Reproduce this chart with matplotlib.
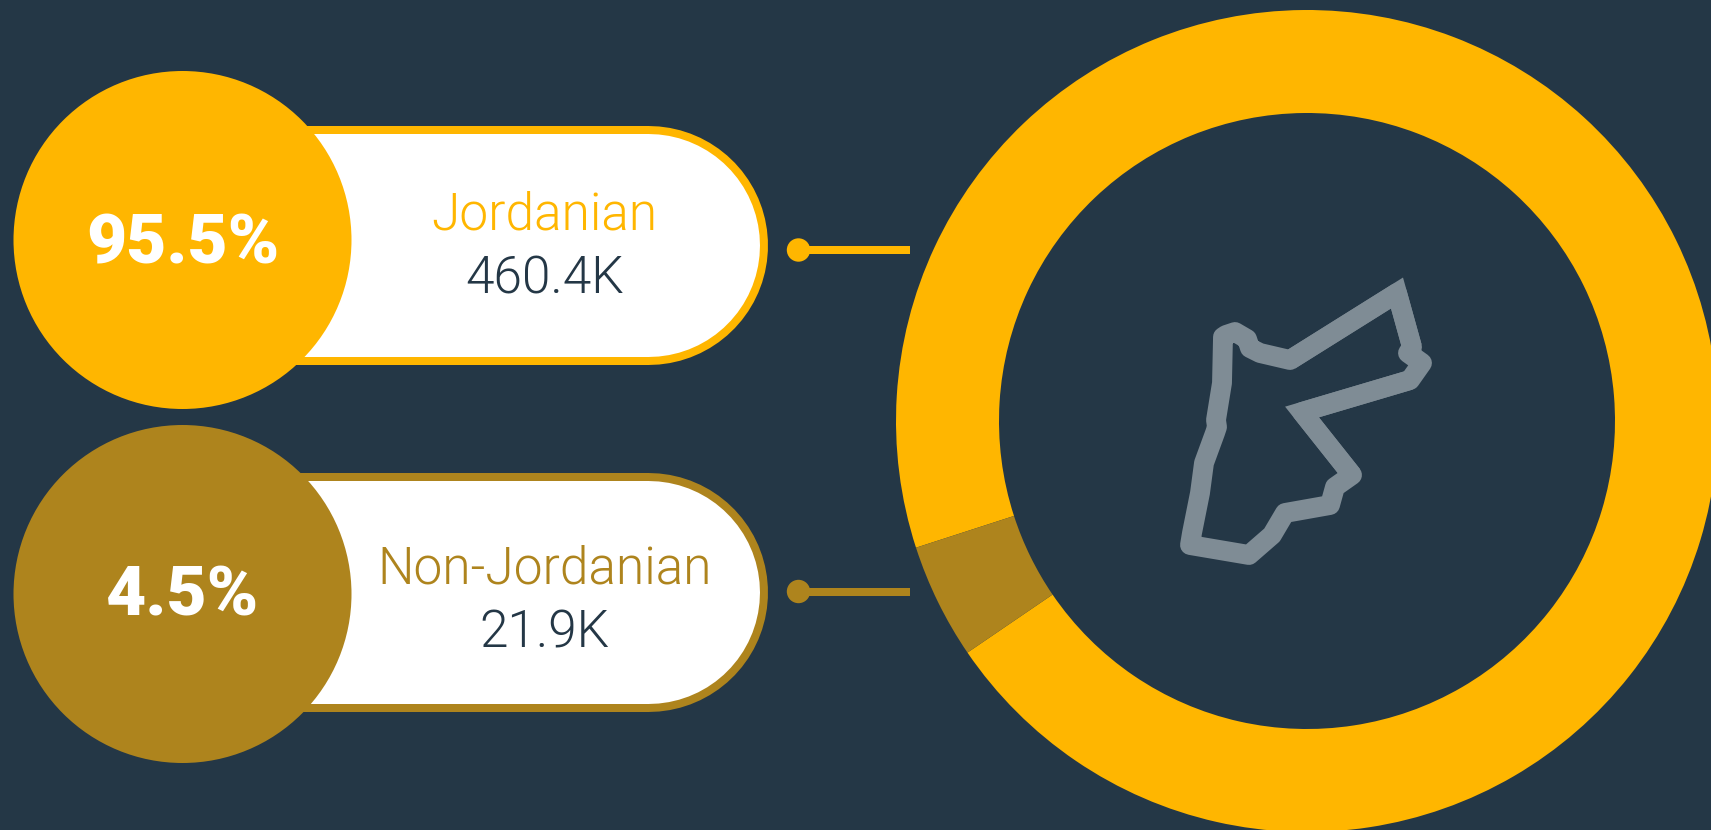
import matplotlib
matplotlib.use("Agg")
import matplotlib.pyplot as plt
from matplotlib.patches import Circle, Polygon, Rectangle

# values
categories = ["Jordanian", "Non-Jordanian"]
counts = [460.4, 21.9]
count_labels = ["460.4K", "21.9K"]
pct_labels = ["95.5%", "4.5%"]

# map outline, traced in pixels
jordan_x = [1397, 1412, 1408, 1422, 1410, 1302, 1352, 1335, 1330, 1285, 1272, 1249, 1190, 1192, 1200, 1204, 1215, 1217, 1216, 1222, 1223, 1226, 1235, 1247, 1250, 1260, 1290]
jordan_y = [293, 347, 353, 363, 380, 412, 475, 487, 505, 513, 535, 555, 545, 533, 493, 463, 433, 427, 420, 383, 337, 335, 332, 339, 348, 353, 360]

BG = "#243746"
YELLOW = "#FFB600"
BROWN = "#AE841D"
GREY = "#7F8C95"

W, H = 1711, 830
plt.rcParams["font.family"] = ["Roboto", "DejaVu Sans"]

fig = plt.figure(figsize=(W / 100, H / 100), dpi=100, facecolor=BG)
ax = fig.add_axes([0, 0, 1, 1])


def py(y):
    return H - y


# donut
ax.pie(counts, colors=[YELLOW, BROWN], startangle=214.3, center=(1307, py(421)), radius=411,
       wedgeprops=dict(width=103, linewidth=0), frame=True)

# map
ax.add_patch(Polygon(list(zip(jordan_x, [py(v) for v in jordan_y])), closed=True, fill=False,
                     edgecolor=GREY, linewidth=14.3, joinstyle="round"))
for i in [0, 5]:
    pts = [(jordan_x[i - 1], py(jordan_y[i - 1])), (jordan_x[i], py(jordan_y[i])), (jordan_x[i + 1], py(jordan_y[i + 1]))]
    ax.add_patch(Polygon(pts, closed=False, fill=False, edgecolor=GREY, linewidth=14.3, joinstyle="miter", capstyle="butt"))

rows = [
    dict(color=YELLOW, cy=240, top=126, bottom=365, line=250, name_base=230, count_base=293, pct_base=263),
    dict(color=BROWN, cy=594, top=472, bottom=711, line=591.5, name_base=583, count_base=647, pct_base=616),
]
for row, name, count, pct in zip(rows, categories, count_labels, pct_labels):
    h = row["bottom"] - row["top"]
    ymid = py((row["top"] + row["bottom"]) / 2)
    # pill, drawn as thick round-capped lines
    ax.plot([200, 768 - h / 2], [ymid, ymid], color=row["color"], lw=h * 0.72, solid_capstyle="round")
    ax.plot([200, 768 - h / 2], [ymid, ymid], color="white", lw=(h - 16) * 0.72, solid_capstyle="round")
    ax.add_patch(Circle((182.5, py(row["cy"])), 169, facecolor=row["color"], edgecolor="none", zorder=3))
    # connector
    ax.add_patch(Circle((798.5, py(row["line"])), 11.7, facecolor=row["color"], edgecolor="none"))
    ax.add_patch(Rectangle((798, py(row["line"] + 4)), 112, 8, facecolor=row["color"], edgecolor="none"))
    ax.text(183, py(row["pct_base"]), pct, color="white", fontsize=50, fontweight=900, ha="center", va="baseline", zorder=4)
    ax.text(544.5, py(row["name_base"]), name, color=row["color"], fontsize=37, fontweight=300, ha="center", va="baseline")
    ax.text(544.5, py(row["count_base"]), count, color=BG, fontsize=37, fontweight=300, ha="center", va="baseline")

ax.set_xlim(0, W)
ax.set_ylim(0, H)
ax.set_aspect("auto")
ax.axis("off")
fig.savefig("out.png", dpi=100, facecolor=BG)
